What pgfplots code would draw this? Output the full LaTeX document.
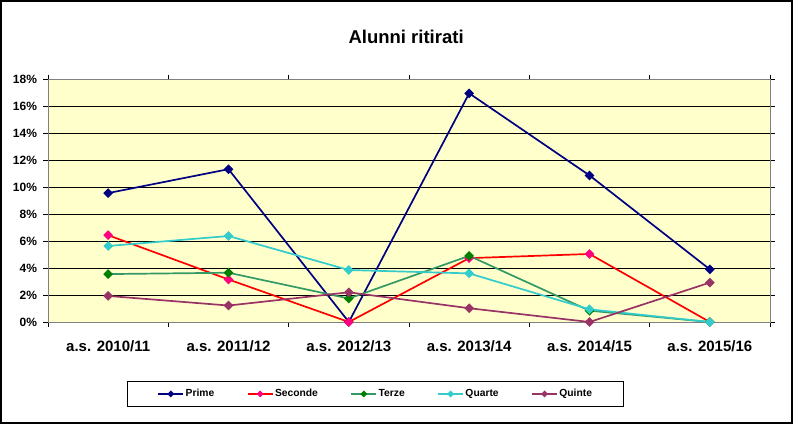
\documentclass[border=0pt]{standalone}
\usepackage{pgfplots}
\pgfplotsset{compat=1.18}
\usepackage{fontspec}
\setmainfont{Liberation Sans}
\definecolor{bgyellow}{RGB}{255,255,204}
\definecolor{cprime}{RGB}{0,0,128}
\definecolor{csec}{RGB}{255,0,0}
\definecolor{csecm}{RGB}{255,0,128}
\definecolor{cterze}{RGB}{51,153,102}
\definecolor{cterzem}{RGB}{0,128,0}
\definecolor{cquarte}{RGB}{51,204,204}
\definecolor{cquinte}{RGB}{153,51,102}
\begin{document}
\begin{tikzpicture}[x=1pt,y=1pt]
\useasboundingbox (0,0) rectangle (793,424);
\draw[line width=1.5pt] (1,1) rectangle (792,423);
\begin{axis}[
  at={(48pt,102pt)}, anchor=south west,
  scale only axis, width=722pt, height=243pt,
  clip=false,
  xmin=-0.5, xmax=5.5, ymin=0, ymax=18,
  axis background/.style={fill=bgyellow},
  axis line style={draw={rgb,255:red,128;green,128;blue,128}, line width=0.8pt},
  tick align=outside, major tick length=4.5pt,
  tick style={black, line width=0.8pt},
  xtick={-0.5,0.5,1.5,2.5,3.5,4.5,5.5},
  xticklabels={a.s. 2010/11,a.s. 2011/12,a.s. 2012/13,a.s. 2013/14,a.s. 2014/15,a.s. 2015/16,{}},
  xticklabel style={xshift=60.17pt, anchor=base, yshift=-25pt,
    font=\bfseries\fontsize{15}{15}\selectfont},
  ytick={0,2,...,18},
  yticklabels={0\%,2\%,4\%,6\%,8\%,10\%,12\%,14\%,16\%,18\%},
  yticklabel style={font=\bfseries\fontsize{12}{12}\selectfont, xshift=-3pt},
  ymajorgrids=true,
  grid style={black, line width=0.8pt},
  title={Alunni ritirati},
  title style={at={(0.496,1)}, anchor=base, yshift=30pt,
    font=\bfseries\fontsize{18.5}{20}\selectfont},
  every axis plot/.append style={line width=1.7pt},
  legend columns=5,
  legend style={at={(0.4536,-0.296)}, anchor=center, draw=black, line width=1pt,
    font=\bfseries\fontsize{10.3}{12}\selectfont,
    inner xsep=30pt, inner ysep=6.5pt,
    nodes={inner sep=1.5pt},
    /tikz/every even column/.append style={column sep=31pt}},
  legend image code/.code={\draw[mark repeat=2,mark phase=2,#1,mark size=1.6pt,line width=1.7pt]
    plot coordinates {(0pt,0pt) (12.5pt,0pt) (25pt,0pt)};},
]
\addplot[cprime, mark=square*, mark size=2.6pt, mark options={rotate=45, fill=cprime, draw=cprime}]
  coordinates {(0,9.55) (1,11.32) (2,0) (3,16.94) (4,10.86) (5,3.9)};
\addlegendentry{Prime}
\addplot[csec, mark=square*, mark size=2.6pt, mark options={rotate=45, fill=csecm, draw=csecm}]
  coordinates {(0,6.43) (1,3.15) (2,0) (3,4.73) (4,5.04) (5,0)};
\addlegendentry{Seconde}
\addplot[cterze, mark=square*, mark size=2.6pt, mark options={rotate=45, fill=cterzem, draw=cterzem}]
  coordinates {(0,3.55) (1,3.65) (2,1.74) (3,4.9) (4,0.84) (5,0)};
\addlegendentry{Terze}
\addplot[cquarte, mark=square*, mark size=2.6pt, mark options={rotate=45, fill=cquarte, draw=cquarte}]
  coordinates {(0,5.63) (1,6.37) (2,3.85) (3,3.6) (4,0.94) (5,0)};
\addlegendentry{Quarte}
\addplot[cquinte, mark=square*, mark size=2.6pt, mark options={rotate=45, fill=cquinte, draw=cquinte}]
  coordinates {(0,1.93) (1,1.22) (2,2.2) (3,1.02) (4,0) (5,2.92)};
\addlegendentry{Quinte}
\end{axis}
\end{tikzpicture}
\end{document}
